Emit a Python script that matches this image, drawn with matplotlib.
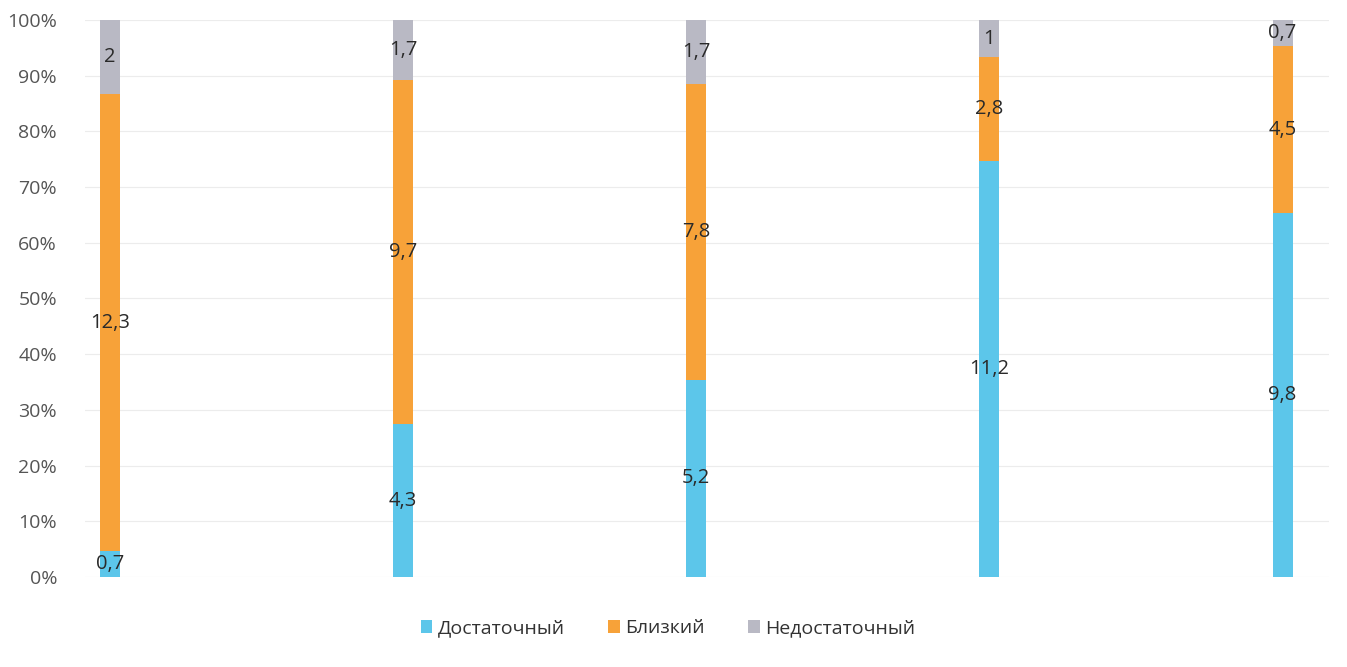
import numpy as np
import matplotlib.pyplot as plt
from matplotlib.ticker import PercentFormatter

plt.rcParams['font.family'] = ['Open Sans', 'DejaVu Sans']

series = ['Достаточный', 'Близкий', 'Недостаточный']
dostatochny = [0.7, 4.3, 5.2, 11.2, 9.8]
blizky = [12.3, 9.7, 7.8, 2.8, 4.5]
nedostatochny = [2, 1.7, 1.7, 1, 0.7]
colors = ['#5cc6ea', '#f7a239', '#b9b9c4']

data = np.array([dostatochny, blizky, nedostatochny])
totals = data.sum(axis=0)
pct = data / totals * 100
x = np.arange(data.shape[1])

fig = plt.figure(figsize=(13.47, 6.67), dpi=100)
ax = fig.add_axes([0.063, 0.135, 0.924, 0.835])

bottom = np.zeros(len(x))
for vals, p, name, c in zip(data, pct, series, colors):
    bars = ax.bar(x, p, 0.068, bottom=bottom, color=c, label=name, zorder=2)
    labels = [('%g' % v).replace('.', ',') for v in vals]
    ax.bar_label(bars, labels=labels, label_type='center', fontsize=14.5, color='#2a2a2a')
    bottom += p

ax.set_ylim(0, 100)
ax.set_xlim(-0.085, 4.16)
ax.set_yticks(np.arange(0, 101, 10))
ax.yaxis.set_major_formatter(PercentFormatter(decimals=0))
ax.set_xticks([])
ax.tick_params(axis='y', length=0, labelsize=14, labelcolor='#555555', pad=20)
ax.grid(axis='y', color='#ececec', linewidth=0.8, zorder=0)
for s in ax.spines.values():
    s.set_visible(False)

fig.legend(loc='center', bbox_to_anchor=(0.496, 0.058), ncol=3, frameon=False,
           fontsize=14, handlelength=0.6, handleheight=0.6, handletextpad=0.3,
           columnspacing=2.2, labelcolor='#333333')

fig.savefig('out.png', dpi=100)
